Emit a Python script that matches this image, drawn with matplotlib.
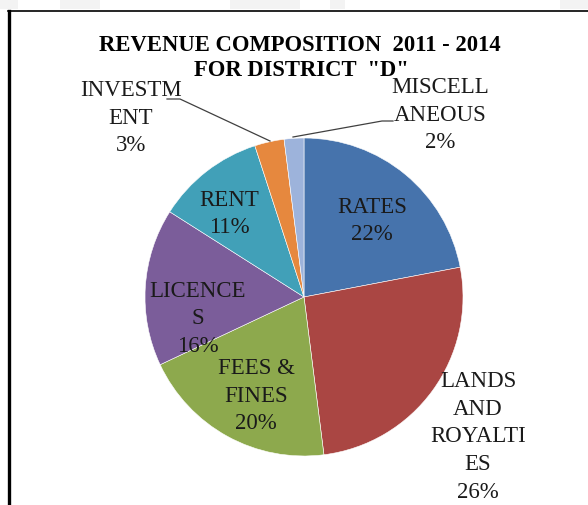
import matplotlib
matplotlib.use("Agg")
import matplotlib.pyplot as plt
from matplotlib.lines import Line2D
from matplotlib.patches import Rectangle

# Revenue shares, clockwise from 12 o'clock
categories = ["RATES", "LANDS AND ROYALTIES", "FEES & FINES", "LICENCES",
              "RENT", "INVESTMENT", "MISCELLANEOUS"]
shares = [22, 26, 20, 16, 11, 3, 2]
label_text = ["RATES", "LANDS\nAND\nROYALTI\nES", "FEES &\nFINES", "LICENCE\nS",
              "RENT", "INVESTM\nENT", "MISCELL\nANEOUS"]
colors = ["#4673AC", "#AA4643", "#8DA94D", "#7B5D9A", "#41A0B8", "#E6883E", "#9DB3DB"]

W, H = 588, 506
fig = plt.figure(figsize=(W / 100, H / 100), dpi=100)
ax = fig.add_axes([0, 0, 1, 1])

serif = ["Liberation Serif", "DejaVu Serif"]

cx, cy, r = 304, H - 298, 159
wedges, _ = ax.pie(shares, colors=colors, startangle=90, counterclock=False,
                   center=(cx, cy), radius=r, frame=True,
                   wedgeprops=dict(edgecolor="white", linewidth=0.4))
ax.set_xlim(0, W)
ax.set_ylim(0, H)
ax.set_aspect("equal")
ax.axis("off")

# faint scan marks above the frame
for x0, w in [(0, 18), (60, 40), (230, 70), (330, 15), (560, 28)]:
    ax.add_patch(Rectangle((x0, H - 10), w, 10, color="#e6e6e6", lw=0, alpha=0.45))

# frame
ax.add_line(Line2D([8, W], [H - 12, H - 12], color="black", lw=1.2))
ax.add_line(Line2D([9, 9], [0, H - 12], color="black", lw=2.4))

ax.text(300, H - 45, "REVENUE COMPOSITION  2011 - 2014", ha="center", va="center",
        fontsize=16.3, fontweight="bold", family=serif)
ax.text(301, H - 70, 'FOR DISTRICT  "D"', ha="center", va="center",
        fontsize=16.3, fontweight="bold", family=serif)

label_pos = [(372, 221), (478, 437), (256, 396), (198, 319),
             (229, 214), (131, 118), (440, 115)]
for txt, v, (px, py) in zip(label_text, shares, label_pos):
    ax.text(px, H - py, f"{txt}\n{v}%", ha="center", va="center",
            fontsize=16.5, family=serif, color="#1a1a1a", linespacing=1.41)

# leader lines for the two thin slices
ax.add_line(Line2D([167, 180, 270], [H - 100, H - 100, H - 142], color="#404040", lw=0.9))
ax.add_line(Line2D([393, 382, 293], [H - 122, H - 122, H - 138], color="#404040", lw=0.9))

fig.savefig("out.png", dpi=100)
